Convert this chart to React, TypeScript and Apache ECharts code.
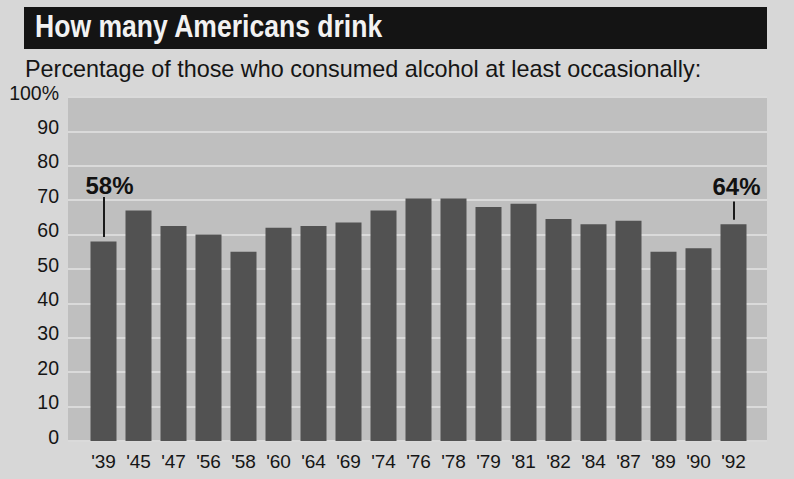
import React, { useEffect, useRef } from "react";
import * as echarts from "echarts";

const categories = ["'39", "'45", "'47", "'56", "'58", "'60", "'64", "'69", "'74", "'76", "'78", "'79", "'81", "'82", "'84", "'87", "'89", "'90", "'92"];
const drinkers = [58, 67, 62.5, 60, 55, 62, 62.5, 63.5, 67, 70.5, 70.5, 68, 69, 64.5, 63, 64, 55, 56, 63];
const yTicks = [0, 10, 20, 30, 40, 50, 60, 70, 80, 90, 100];
const calloutCats = ["'39", "'92"];
const calloutTexts = ["58%", "64%"];
const calloutLineFrom = [59.3, 64.3];
const calloutLineTo = [70.9, 69.6];
const calloutTextAt = [74.4, 74.1];
const calloutTextShift = [6, 3];

const titleText = "How many Americans drink";
const subtitleText = "Percentage of those who consumed alcohol at least occasionally:";

export default function App() {
  const ref = useRef<HTMLDivElement>(null);
  useEffect(() => {
    if (!ref.current) return;
    const chart = echarts.init(ref.current, undefined, { renderer: "svg" });
    const sans = "'Liberation Sans', Arial, Helvetica, sans-serif";
    chart.setOption({
      animation: false,
      backgroundColor: "#d7d7d7",
      grid: [
        { left: 86, right: 43, top: 97, bottom: 38, show: false },
        { left: 68, right: 27, top: 97, bottom: 38, show: true, backgroundColor: "#bfbfbf", borderWidth: 0 },
      ],
      xAxis: [
        {
          type: "category",
          gridIndex: 0,
          data: categories,
          axisLine: { show: false },
          axisTick: { show: false },
          axisLabel: { fontSize: 19, color: "#151515", fontFamily: sans, margin: 11, interval: 0 },
        },
        { type: "value", gridIndex: 1, show: false, min: 0, max: 1 },
      ],
      yAxis: [
        { type: "value", gridIndex: 0, min: 0, max: 100, interval: 10, show: false },
        {
          type: "value",
          gridIndex: 1,
          min: 0,
          max: 100,
          interval: 10,
          axisLine: { show: false },
          axisTick: { show: false },
          splitLine: { show: true, lineStyle: { color: "#dadada", width: 2 } },
          axisLabel: {
            fontSize: 19.5,
            color: "#151515",
            fontFamily: sans,
            margin: 9,
            verticalAlign: "bottom",
            lineHeight: 9,
            formatter: (v: number) => (v === 100 ? "100%" : String(v)),
            customValues: yTicks,
          },
        },
      ],
      graphic: [
        { type: "rect", shape: { x: 24, y: 7, width: 743, height: 42 }, style: { fill: "#141414" } },
        {
          type: "text",
          x: 35,
          y: 26,
          scaleX: 0.83,
          style: {
            text: titleText,
            fill: "#f2f2f2",
            font: `bold 32px ${sans}`,
            verticalAlign: "middle",
          },
        },
        {
          type: "text",
          x: 25,
          y: 69,
          style: {
            text: subtitleText,
            fill: "#151515",
            font: `23.4px ${sans}`,
            verticalAlign: "middle",
          },
        },
      ],
      series: [
        {
          type: "bar",
          xAxisIndex: 0,
          yAxisIndex: 0,
          data: drinkers,
          barWidth: 26,
          itemStyle: { color: "#525252" },
          markLine: {
            silent: true,
            symbol: "none",
            label: { show: false },
            lineStyle: { color: "#1a1a1a", width: 2, type: "solid" },
            data: calloutCats.map((c, i) => [
              { coord: [c, calloutLineFrom[i]] },
              { coord: [c, calloutLineTo[i]] },
            ]),
          },
          markPoint: {
            silent: true,
            symbol: "rect",
            symbolSize: 1,
            itemStyle: { color: "rgba(0,0,0,0)" },
            data: calloutCats.map((c, i) => ({
              coord: [c, calloutTextAt[i]],
              value: calloutTexts[i],
              label: {
                show: true,
                position: "inside",
                offset: [calloutTextShift[i], 0],
                formatter: calloutTexts[i],
                color: "#111",
                fontSize: 24,
                fontWeight: "bold",
                fontFamily: sans,
              },
            })),
          },
        },
      ],
    });
    return () => chart.dispose();
  }, []);
  return <div ref={ref} style={{ position: "absolute", left: 0, top: 0, width: 794, height: 479 }} />;
}
